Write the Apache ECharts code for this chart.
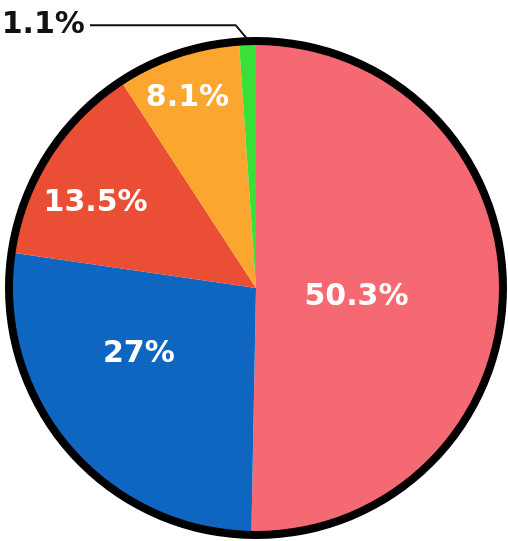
<!DOCTYPE html>
<html>
<head>
<meta charset="utf-8">
<script src="https://cdn.jsdelivr.net/npm/echarts@6/dist/echarts.min.js"></script>
<style>
html,body{margin:0;padding:0;background:#fff;}
#chart{width:508px;height:541px;}
</style>
</head>
<body>
<div id="chart"></div>
<script>
// Data
var categories = ['A', 'B', 'C', 'D', 'E'];
var values = [50.3, 27, 13.5, 8.1, 1.1];
var labels = ['50.3%', '27%', '13.5%', '8.1%', '1.1%'];

// Styling
var colors = ['#f56a72', '#0f66c1', '#ea4e34', '#fba62e', '#38e038'];
var labelShift = [[-27, 8], [-20, -16], [-53, -16], [-28, -69], [0, 0]];
var FONT = '"DejaVu Sans", sans-serif';

var chart = echarts.init(document.getElementById('chart'), null, {renderer: 'canvas'});

var pieData = categories.map(function (c, i) {
  var item = {name: c, value: values[i], itemStyle: {color: colors[i]}};
  if (i === values.length - 1) {
    item.label = {
      position: 'outside', color: '#111', fontSize: 30, fontWeight: 'bold',
      fontFamily: FONT, overflow: 'none', width: 120, align: 'right',
      edgeDistance: 0
    };
    item.labelLine = {show: true, length: 14, length2: 157, minTurnAngle: 130,
      lineStyle: {color: '#111', width: 2}};
  }
  return item;
});

chart.setOption({
  animation: false,
  series: [
    {
      type: 'pie',
      center: [256, 288],
      radius: [0, 249],
      startAngle: 90,
      clockwise: true,
      data: pieData,
      itemStyle: {borderWidth: 0},
      label: {
        show: true,
        position: 'inside',
        formatter: function (p) { return labels[p.dataIndex]; },
        color: '#fff',
        fontSize: 30,
        fontWeight: 'bold',
        fontFamily: FONT
      },
      labelLine: {show: false},
      labelLayout: function (p) {
        var s = labelShift[p.dataIndex];
        return {dx: s[0], dy: s[1]};
      },
      emphasis: {disabled: true}
    },
    {
      type: 'pie',
      center: [256, 288],
      radius: [243, 251],
      silent: true,
      data: [{value: 1, itemStyle: {color: '#000'}}],
      label: {show: false},
      labelLine: {show: false},
      emphasis: {disabled: true}
    }
  ]
});
</script>
</body>
</html>
